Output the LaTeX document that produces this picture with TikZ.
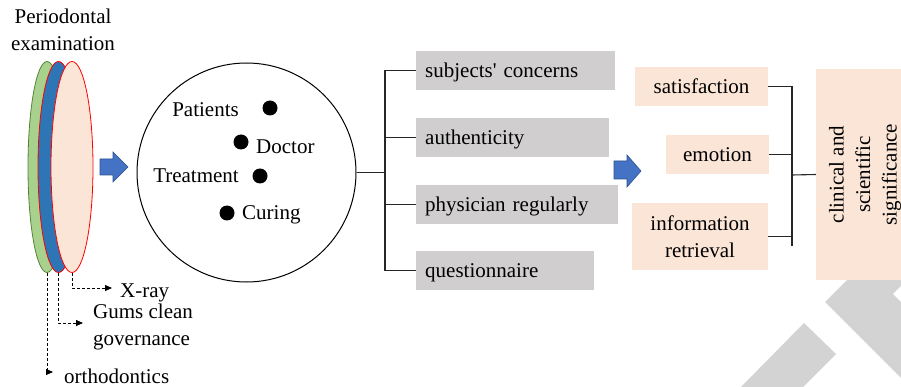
\documentclass[tikz,border=0pt]{standalone}
\usepackage{fontspec}
\setmainfont{Liberation Serif}
\usetikzlibrary{shapes.geometric,arrows.meta}
\definecolor{grayfill}{HTML}{D0CECE}
\definecolor{peach}{HTML}{FBE5D6}
\definecolor{wmgray}{HTML}{D3D3D3}
\definecolor{arrowblue}{HTML}{4472C4}
\definecolor{arrowedge}{HTML}{2F528F}
\definecolor{lgreen}{HTML}{A9D18E}
\definecolor{dgreen}{HTML}{548235}
\definecolor{eblue}{HTML}{2E75B6}
\definecolor{ered}{HTML}{FF0000}
\begin{document}
\begin{tikzpicture}[x=1pt,y=-1pt,
  every node/.style={font=\fontsize{21}{26.5}\selectfont, inner sep=0pt},
  graybox/.style={fill=grayfill, anchor=west, minimum height=39pt, inner xsep=9pt, align=left, text height=17pt, text depth=3.5pt},
  peachbox/.style={fill=peach, minimum height=39pt, align=center},
  conn/.style={draw=black!85, line width=1.1pt},
  dashconn/.style={draw=black, line width=0.8pt, dash pattern=on 3pt off 2pt, -{Triangle[length=7pt,width=6pt]}},
  blockarrow/.style={fill=arrowblue, draw=arrowedge, line width=0.6pt},
  dot/.style={circle, fill=black, minimum size=15pt},
  disc/.style={ellipse, line width=0.8pt, minimum height=211pt},
  wm/.style={fill=wmgray}
]
\useasboundingbox (0,0) rectangle (901,387);
% watermark
\begin{scope}
\clip (0,0) rectangle (901,387);
\fill[wm] (741,387) -- (804,323) -- (836,354) -- (803,387) -- cycle;
\fill[wm] (825,302) -- (880,247) -- (1000,247) -- (1000,400) -- (923,400) -- cycle;
\fill[white] (893,294) -- (910,277) -- (910,311) -- cycle;
\end{scope}

% left discs
\node[disc, fill=lgreen, draw=dgreen, minimum width=38pt] (eg) at (47,167) {};
\node[disc, fill=eblue, draw=ered, minimum width=41pt] (eb) at (58.5,167) {};
\node[disc, fill=peach, draw=ered, minimum width=42pt] (ep) at (72,167) {};

\node[align=center] (title) at (63,30) {Periodontal\\examination};
\node[anchor=mid west] (xray) at (120,295) {X-ray};
\node[anchor=west, align=left] (gums) at (93,327) {Gums clean\\governance};
\node[anchor=mid west] (ortho) at (64,381) {orthodontics};

\coordinate (t1) at (112,288);
\coordinate (t2) at (83,323);
\coordinate (t3) at (53,372);
\draw[dashconn] (ep.south) |- (t1);
\draw[dashconn] (eb.south) |- (t2);
\draw[dashconn] (eg.south) |- (t3);

% block arrow 1
\path[blockarrow] (100,159) -- (113,159) -- (113,152) -- (128,167) -- (113,182) -- (113,175) -- (100,175) -- cycle;

% circle
\node[circle, draw, line width=1pt, minimum size=219pt] (circ) at (246.5,172.5) {};
\node[dot] (d1) at (270,108) {};
\node[dot] (d2) at (241,142) {};
\node[dot] (d3) at (260,176) {};
\node[dot] (d4) at (227,213) {};
\node[anchor=mid east] (patients) at (239,114.5) {Patients};
\node[anchor=mid west] (doctor) at (256,151) {Doctor};
\node[anchor=mid east] (treat) at (239,180) {Treatment};
\node[anchor=mid west] (curing) at (242,217) {Curing};

% gray boxes
\node[graybox, text width=181pt] (g1) at (416,70.5) {subjects\textquotesingle{} concerns};
\node[graybox, text width=175pt] (g2) at (416,137.5) {authenticity};
\node[graybox, text width=184pt] (g3) at (416,204.5) {physician regularly};
\node[graybox, text width=160pt] (g4) at (416,270.5) {questionnaire};

\coordinate (b1) at (385,172.5);
\draw[conn] (circ.east) -- (b1);
\draw[conn] (b1 |- g1.west) -- (b1 |- g4.west);
\foreach \g in {g1,g2,g3,g4} \draw[conn] (b1 |- \g.west) -- (\g.west);

% block arrow 2
\path[blockarrow] (614,161) -- (627,161) -- (627,155) -- (641,171) -- (627,187) -- (627,179) -- (614,179) -- cycle;

% peach boxes
\node[peachbox, minimum width=133pt, text height=17pt, text depth=3.5pt] (p1) at (701.5,86.5) {satisfaction};
\node[peachbox, minimum width=103pt, text height=17pt, text depth=3.5pt] (p2) at (717.5,154.5) {emotion};
\node[peachbox, minimum width=136pt, minimum height=67pt] (p3) at (700,236.5) {information\\retrieval};

\node[fill=peach, minimum width=89pt, minimum height=211pt] (clin) at (860.5,174.5) {};
\node[rotate=90, align=center] (clintext) at (865,174.5) {clinical and\\scientific\\significance};

\coordinate (b2) at (792,175);
\coordinate (b2end) at (792,246);
\draw[conn] (b2 |- p1.east) -- (b2end);
\foreach \p in {p1,p2,p3} \draw[conn] (\p.east) -- (b2 |- \p.east);
\draw[conn] (b2) -- (clin.west);
\end{tikzpicture}
\end{document}
